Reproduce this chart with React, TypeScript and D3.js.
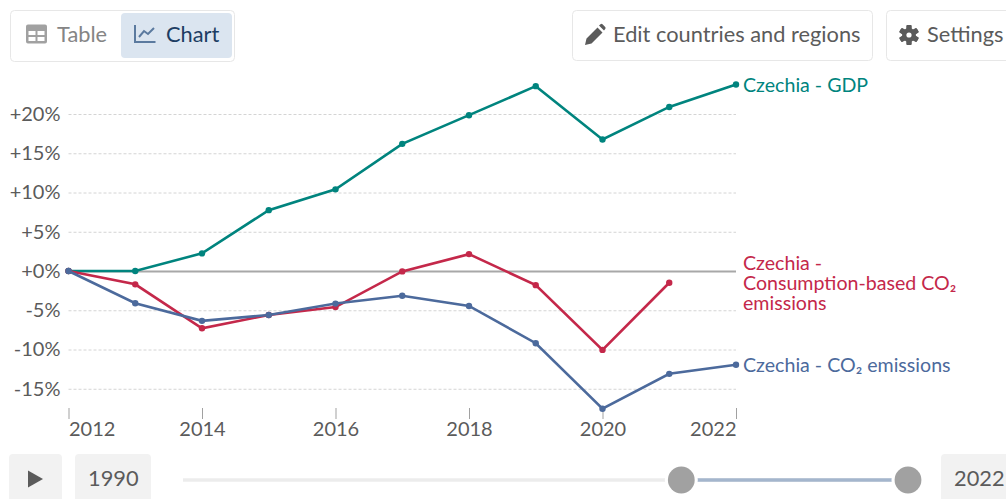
import React, { useEffect, useRef } from "react";
import * as d3 from "d3";

const years = [2012, 2013, 2014, 2015, 2016, 2017, 2018, 2019, 2020, 2021, 2022];
const gdp = [0, 0, 2.25, 7.75, 10.4, 16.2, 19.85, 23.55, 16.75, 20.9, 23.75];
const consumption = [0, -1.7, -7.3, -5.6, -4.6, -0.05, 2.15, -1.8, -10.05, -1.5];
const co2 = [0, -4.1, -6.35, -5.6, -4.15, -3.15, -4.45, -9.2, -17.55, -13.1, -11.95];
const yTicks = [-15, -10, -5, 0, 5, 10, 15, 20];
const xTicks = [2012, 2014, 2016, 2018, 2020, 2022];

const FONT = "Lato, 'Noto Sans', sans-serif";
const GREY = "#5b5b5b";

const series = [
  { values: gdp, color: "#00847e", label: ["Czechia - GDP"], labelY: 92 },
  {
    values: consumption,
    color: "#c4284a",
    label: ["Czechia -", "Consumption-based CO₂", "emissions"],
    labelY: 270,
  },
  { values: co2, color: "#4c6a9c", label: ["Czechia - CO₂ emissions"], labelY: 372 },
];

const App: React.FC = () => {
  const svgRef = useRef<SVGSVGElement | null>(null);

  useEffect(() => {
    const width = 1006;
    const height = 499;

    const x = d3.scaleLinear().domain([2012, 2022]).range([68.5, 736]);
    const y = d3.scaleLinear().domain([0, 20]).range([271, 114]);

    const svg = d3
      .select(svgRef.current)
      .attr("width", width)
      .attr("height", height)
      .attr("viewBox", [0, 0, width, height])
      .style("position", "absolute")
      .style("left", 0)
      .style("top", 0)
      .style("font-family", FONT);

    svg.selectAll("*").remove();

    // gy
    const gy = svg
      .append("g")
      .attr("transform", "translate(68.5,0)")
      .call(
        d3
          .axisLeft(y)
          .tickValues(yTicks)
          .tickSize(-(736 - 68.5))
          .tickPadding(8)
          .tickFormat((d) => ((d as number) >= 0 ? "+" : "") + d + "%"),
      );
    gy.select(".domain").remove();
    gy.selectAll("line")
      .attr("stroke", (d) => (d === 0 ? "#a8a8a8" : "#d4d4d4"))
      .attr("stroke-width", (d) => (d === 0 ? 1.8 : 1))
      .attr("stroke-dasharray", (d) => (d === 0 ? null : "3,2"));
    gy.selectAll("text")
      .attr("fill", GREY)
      .style("font-size", "20px")
      .style("font-family", FONT);

    // gx
    const gx = svg
      .append("g")
      .attr("transform", "translate(0,408)")
      .call(
        d3
          .axisBottom(x)
          .tickValues(xTicks)
          .tickSize(11)
          .tickPadding(3)
          .tickFormat(d3.format("d")),
      );
    gx.select(".domain").remove();
    gx.selectAll("line").attr("stroke", "#a1a1a1").attr("stroke-width", 1);
    gx.selectAll("text")
      .attr("fill", GREY)
      .style("font-size", "20px")
      .style("font-family", FONT)
      .attr("text-anchor", (d) =>
        d === 2012 ? "start" : d === 2022 ? "end" : "middle",
      );

    const line = d3
      .line<number>()
      .x((_, i) => x(years[i]))
      .y((d) => y(d));

    series.forEach((s) => {
      const g = svg.append("g");
      g.append("path")
        .attr("d", line(s.values))
        .attr("fill", "none")
        .attr("stroke", s.color)
        .attr("stroke-width", 2.6);
      g.selectAll("circle")
        .data(s.values)
        .enter()
        .append("circle")
        .attr("cx", (_, i) => x(years[i]))
        .attr("cy", (d) => y(d))
        .attr("r", 3.2)
        .attr("fill", s.color);
      g.append("text")
        .attr("fill", s.color)
        .style("font-size", "19.6px")
        .selectAll("tspan")
        .data(s.label)
        .enter()
        .append("tspan")
        .attr("x", 743)
        .attr("y", (_, i) => s.labelY + i * 20)
        .text((d) => d);
    });

    // top controls
    const box = (
      bx: number,
      by: number,
      w: number,
      h: number,
      fill: string,
      stroke: string,
    ) =>
      svg
        .append("rect")
        .attr("x", bx)
        .attr("y", by)
        .attr("width", w)
        .attr("height", h)
        .attr("rx", 4)
        .attr("fill", fill)
        .attr("stroke", stroke)
        .attr("stroke-width", 1);

    const label = (tx: number, ty: number, str: string, fill: string, size = 21.8) =>
      svg
        .append("text")
        .attr("x", tx)
        .attr("y", ty)
        .attr("fill", fill)
        .style("font-size", size + "px")
        .text(str);

    box(10.5, 10.5, 224, 51, "#ffffff", "#e7e7e7");
    box(121, 13, 111, 45, "#dbe5f0", "none");
    label(57, 42, "Table", "#858585");
    label(166, 42, "Chart", "#1d3d63");
    box(572.5, 10.5, 300, 50, "#ffffff", "#e7e7e7");
    label(613, 42, "Edit countries and regions", GREY);
    box(886.5, 10.5, 140, 50, "#ffffff", "#e7e7e7");
    label(927, 42, "Settings", GREY);

    // table icon
    svg
      .append("path")
      .attr("fill", "#a1a1a1")
      .attr("fill-rule", "evenodd")
      .attr(
        "d",
        "M28 24.500h17a2 2 0 0 1 2 2v15a2 2 0 0 1-2 2h-17a2 2 0 0 1-2-2v-15a2 2 0 0 1 2-2zM28.500 31v4h7v-4zM37.500 31v4h7v-4zM28.500 37v4h7v-4zM37.500 37v4h7v-4z",
      );
    // chart icon
    svg
      .append("path")
      .attr("fill", "none")
      .attr("stroke", "#5b7a9f")
      .attr("stroke-width", 2)
      .attr("d", "M135 25v17h20.500M139 37l5-6 4 3 6-6");
    // pencil icon
    svg
      .append("path")
      .attr("fill", GREY)
      .attr(
        "d",
        "M585 45l1.5-6.5 11-11 5 5-11 11zM599 25.500l1.500-1.200a1.500 1.500 0 0 1 2 0l2.700 2.700a1.500 1.500 0 0 1 0 2l-1.200 1.500z",
      );
    // gear icon
    const gear = svg.append("g").attr("transform", "translate(909,35)");
    d3.range(6).forEach((i) => {
      gear
        .append("rect")
        .attr("x", -2.5)
        .attr("y", -10)
        .attr("width", 5)
        .attr("height", 20)
        .attr("rx", 1)
        .attr("fill", GREY)
        .attr("transform", `rotate(${i * 30 * 2})`);
    });
    gear
      .append("circle")
      .attr("r", 5.2)
      .attr("fill", "none")
      .attr("stroke", GREY)
      .attr("stroke-width", 3.5);
    gear.append("circle").attr("r", 2.6).attr("fill", "#ffffff");

    // timeline
    box(9, 454, 53, 50, "#f2f2f2", "none");
    svg
      .append("path")
      .attr("fill", GREY)
      .attr("d", "M28 470.500l15 8.500-15 8.500z");
    box(75, 454, 76, 50, "#f2f2f2", "none");
    label(88, 486, "1990", GREY);
    box(941, 454, 80, 50, "#f2f2f2", "none");
    label(954, 486, "2022", GREY);

    svg
      .append("line")
      .attr("x1", 183)
      .attr("x2", 908)
      .attr("y1", 480)
      .attr("y2", 480)
      .attr("stroke", "#ececec")
      .attr("stroke-width", 3.5);
    svg
      .append("line")
      .attr("x1", 681)
      .attr("x2", 908)
      .attr("y1", 480)
      .attr("y2", 480)
      .attr("stroke", "#a4b6cd")
      .attr("stroke-width", 3.5);
    [681.3, 908].forEach((cx) => {
      svg
        .append("circle")
        .attr("cx", cx)
        .attr("cy", 480)
        .attr("r", 16.5)
        .attr("fill", "#ffffff");
      svg
        .append("circle")
        .attr("cx", cx)
        .attr("cy", 480)
        .attr("r", 13.4)
        .attr("fill", "#a1a1a1");
    });
  }, []);

  return <svg ref={svgRef}></svg>;
};

export default App;
